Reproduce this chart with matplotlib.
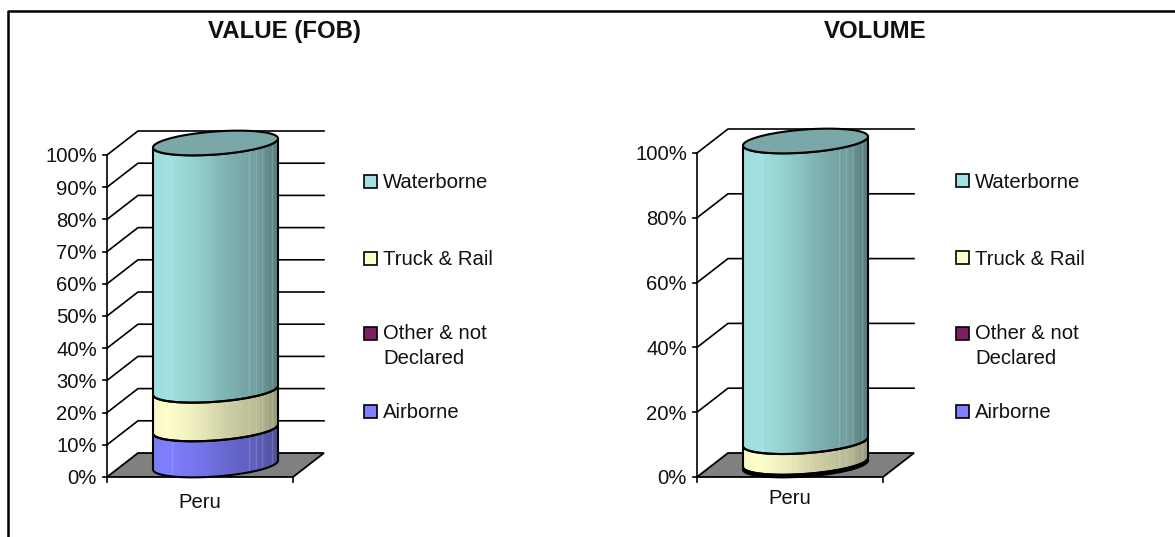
import numpy as np
import matplotlib
matplotlib.use("Agg")
import matplotlib.pyplot as plt
from matplotlib.patches import Polygon, Rectangle, PathPatch
from matplotlib.path import Path
from matplotlib.colors import LinearSegmentedColormap, to_rgb, to_hex

plt.rcParams['font.family'] = ['Liberation Sans', 'DejaVu Sans']

# data, bottom to top of the stack
series_names = ["Airborne", "Other & not\nDeclared", "Truck & Rail", "Waterborne"]
value_shares = [11.2, 0.0, 12.0, 76.8]
volume_shares = [0.4, 0.4, 6.4, 92.8]
value_ticks = [0, 10, 20, 30, 40, 50, 60, 70, 80, 90, 100]
volume_ticks = [0, 20, 40, 60, 80, 100]
category = "Peru"

light = {"Airborne": "#7f7fff", "Other & not\nDeclared": "#7f1f5f",
         "Truck & Rail": "#ffffcc", "Waterborne": "#a2e2e2"}
dark = {"Airborne": "#50509c", "Other & not\nDeclared": "#501040",
        "Truck & Rail": "#9c9c7c", "Waterborne": "#5c8080"}
top_cap = "#7aa8a8"

W, H = 1175, 537
fig = plt.figure(figsize=(W / 100, H / 100), dpi=100)


def draw_chart(title, shares, ticks, x0, y0_px, y100_px, title_x, legend_x, peru_y):
    ax = fig.add_axes([0, 0, 1, 1])
    ax.axis("off")
    ax.patch.set_alpha(0)
    ppp = (y0_px - y100_px) / 100.0  # pixels per percent
    ylim = (-(H - y0_px) / ppp, y0_px / ppp)

    def up(px):
        return px / ppp

    dx, dy = 31, up(24)
    x1 = x0 + 186

    # floor
    ax.add_patch(Polygon([(x0, 0), (x1, 0), (x1 + dx, dy), (x0 + dx, dy)],
                         closed=True, fc="#808080", ec="black", lw=1.3, zorder=1))
    # walls and gridlines
    ax.plot([x0, x0], [0, 100], color="black", lw=1.2, zorder=2)
    for t in ticks:
        if t > 0:
            ax.plot([x0, x0 + dx, x1 + dx], [t, t + dy, t + dy], color="black", lw=1.2, zorder=2)
        ax.plot([x0 - 4, x0], [t, t], color="black", lw=1.2, zorder=2)
        ax.text(x0 - 10, t - up(2), f"{t}%", ha="right", va="center", fontsize=14.6, color="#111111")
    for xt in (x0, x1):
        ax.plot([xt, xt], [0, -up(5)], color="black", lw=1.2, zorder=2)
    ax.text((x0 + x1) / 2, (y0_px - peru_y) / ppp, category, ha="center", va="center",
            fontsize=14.6, color="#111111")

    # cylinder
    cx = x0 + 108.5
    rx = 62.5
    ry = up(11.5)
    tilt = up(4.5)
    t_front = np.linspace(np.pi, 2 * np.pi, 80)
    t_back = t_front[::-1]

    def rim(level, t):
        mid = level + up(12)
        return cx + rx * np.cos(t), mid + tilt * np.cos(t) + ry * np.sin(t)

    cmap_x = [0.0, 0.1, 0.3, 0.6, 0.85, 1.0]
    cmap_v = [0.95, 1.0, 0.85, 0.52, 0.3, 0.0]
    level = 0.0
    for name, share in zip(series_names, shares):
        if share <= 0:
            continue
        top = level + share
        xb, yb = rim(level, t_front)
        xt, yt = rim(top, t_back)
        verts = np.vstack([np.column_stack([xb, yb]), np.column_stack([xt, yt]), [[xb[0], yb[0]]]])
        path = Path(verts, closed=True)
        lo, hi = np.array(to_rgb(dark[name])), np.array(to_rgb(light[name]))
        cmap = LinearSegmentedColormap.from_list(
            "s", [(p, to_hex(lo * (1 - v) + hi * v)) for p, v in zip(cmap_x, cmap_v)])
        im = ax.imshow(np.linspace(0, 1, 28)[None, :], cmap=cmap, aspect="auto",
                       extent=(cx - rx, cx + rx, ylim[0], ylim[1]), zorder=3, interpolation="nearest")
        patch = PathPatch(path, fc="none", ec="black", lw=1.5, zorder=4)
        ax.add_patch(patch)
        im.set_clip_path(patch)
        # faint vertical banding on the cylinder
        for frac in (0.15, 0.77, 0.82, 0.875, 0.95):
            hl = ax.axvline(cx - rx + 2 * rx * frac, color="white", alpha=0.15, lw=1, zorder=3.5)
            hl.set_clip_path(patch)
        level = top
    xc, yc = rim(100, np.linspace(0, 2 * np.pi, 160))
    ax.fill(xc, yc, fc=top_cap, ec="black", lw=1.5, zorder=5)

    # legend
    legend_order = ["Waterborne", "Truck & Rail", "Other & not\nDeclared", "Airborne"]
    legend_px = [181, 258, 334, 411]
    for name, ypx in zip(legend_order, legend_px):
        y = (y0_px - ypx) / ppp
        ax.add_patch(Rectangle((legend_x, y - up(6.5)), 13, up(13), fc=light[name], ec="black", lw=1.2, zorder=3))
        if "\n" in name:
            ax.text(legend_x + 19, y + up(10), name, ha="left", va="top", fontsize=14.6,
                    color="#111111", linespacing=1.43)
        else:
            ax.text(legend_x + 19, y - up(1.5), name, ha="left", va="center", fontsize=14.6, color="#111111")

    ax.text(title_x, (y0_px - 32) / ppp, title, ha="center", va="center", fontsize=17.3,
            fontweight="bold", color="#111111")
    ax.set_xlim(0, W)
    ax.set_ylim(*ylim)
    return ax


draw_chart("VALUE (FOB)", value_shares, value_ticks, 107, 477, 155, 284, 364, 502)
draw_chart("VOLUME", volume_shares, volume_ticks, 697, 477, 153, 875, 956, 499)

# outer frame
frame = fig.add_axes([0, 0, 1, 1])
frame.axis("off")
frame.patch.set_alpha(0)
frame.set_xlim(0, W)
frame.set_ylim(H, 0)
frame.plot([8, 8, W], [H, 11, 11], color="black", lw=1.8)

fig.savefig("out.png", dpi=100)
